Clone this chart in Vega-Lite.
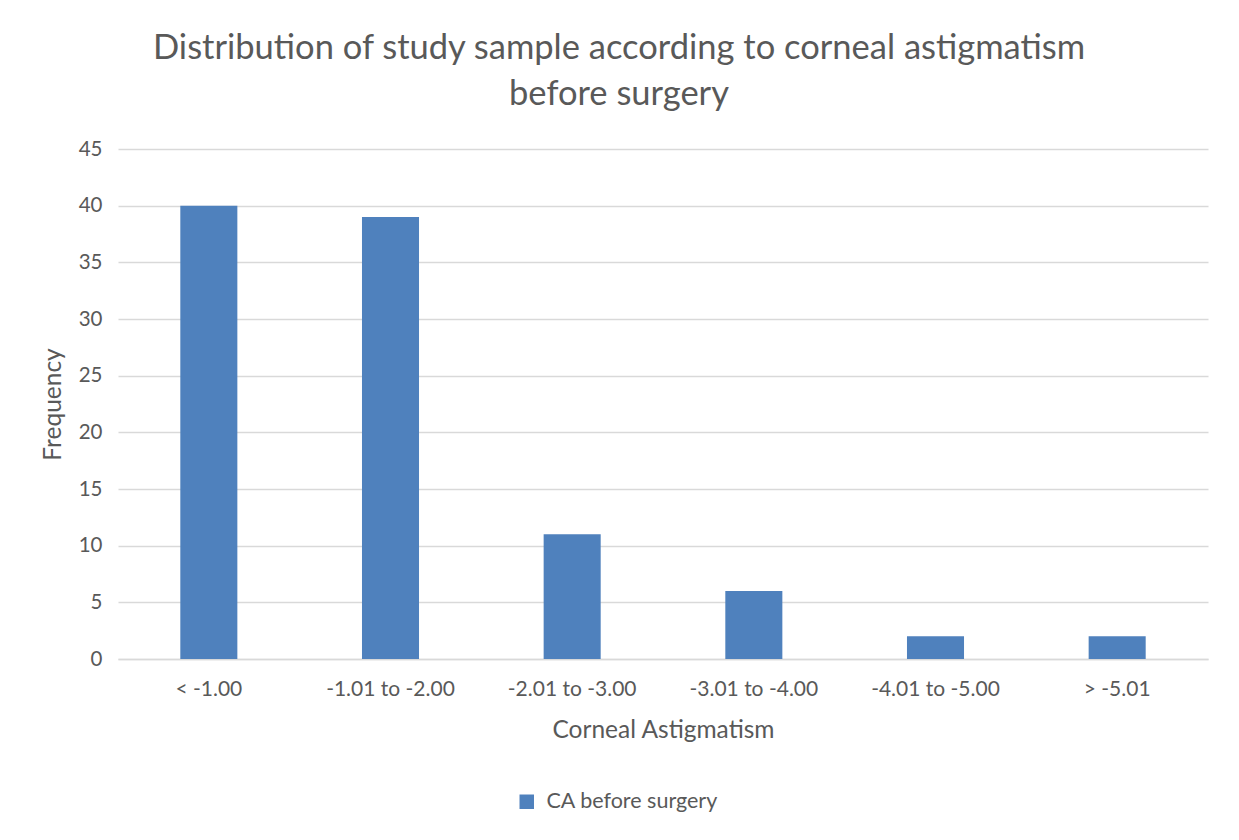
{
  "$schema": "https://vega.github.io/schema/vega-lite/v6.json",
  "width": 1090,
  "height": 510,
  "autosize": {"type": "none"},
  "padding": {"left": 118, "top": 149, "right": 31, "bottom": 181},
  "background": "white",
  "config": {
    "font": "Lato",
    "view": {"stroke": null},
    "axis": {"labelColor": "#595959", "titleColor": "#595959", "labelFont": "Lato", "titleFont": "Lato", "titleFontWeight": "normal"}
  },
  "title": {
    "text": ["Distribution of study sample according to corneal astigmatism", "before surgery"],
    "fontSize": 34.5,
    "fontWeight": "normal",
    "color": "#595959",
    "font": "Lato",
    "anchor": "middle",
    "dx": -44,
    "offset": 27,
    "lineHeight": 46
  },
  "data": {
    "values": [
      {"range": "< -1.00", "frequency": 40, "series": "CA before surgery"},
      {"range": "-1.01 to -2.00", "frequency": 39, "series": "CA before surgery"},
      {"range": "-2.01 to -3.00", "frequency": 11, "series": "CA before surgery"},
      {"range": "-3.01 to -4.00", "frequency": 6, "series": "CA before surgery"},
      {"range": "-4.01 to -5.00", "frequency": 2, "series": "CA before surgery"},
      {"range": "> -5.01", "frequency": 2, "series": "CA before surgery"}
    ]
  },
  "mark": {"type": "bar"},
  "encoding": {
    "x": {
      "field": "range",
      "type": "nominal",
      "sort": null,
      "scale": {"paddingInner": 0.686, "paddingOuter": 0.343},
      "axis": {
        "title": "Corneal Astigmatism",
        "titleFontSize": 24.5,
        "titlePadding": 19,
        "labelFontSize": 21,
        "labelAngle": 0,
        "labelPadding": 19,
        "ticks": false,
        "domain": true,
        "domainColor": "#d9d9d9",
        "domainWidth": 1.5
      }
    },
    "y": {
      "field": "frequency",
      "type": "quantitative",
      "scale": {"domain": [0, 45]},
      "axis": {
        "title": "Frequency",
        "titleFontSize": 24.5,
        "titlePadding": 13,
        "labelFontSize": 20.5,
        "labelPadding": 16,
        "values": [0, 5, 10, 15, 20, 25, 30, 35, 40, 45],
        "ticks": false,
        "domain": false,
        "gridColor": "#d9d9d9",
        "gridWidth": 1.5
      }
    },
    "color": {
      "field": "series",
      "type": "nominal",
      "scale": {"range": ["#4f81bd"]},
      "legend": {
        "title": null,
        "orient": "none",
        "legendX": 398,
        "legendY": 642,
        "symbolType": "square",
        "symbolSize": 210,
        "symbolStrokeWidth": 0,
        "labelFontSize": 21.5,
        "labelLimit": 500,
        "labelColor": "#595959",
        "labelFont": "Lato",
        "labelOffset": 9
      }
    }
  }
}
